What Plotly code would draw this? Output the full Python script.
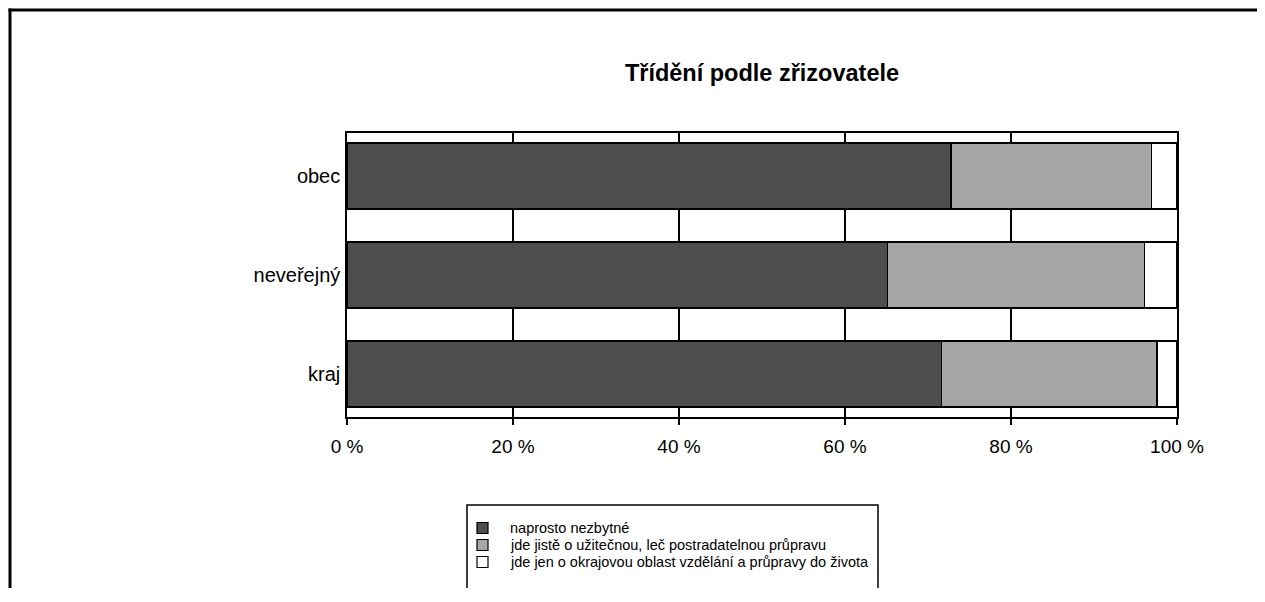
import plotly.graph_objects as go

# data, bottom to top as plotly draws it
categories = ["kraj", "neveřejný", "obec"]
series_names = [
    "naprosto nezbytné",
    "jde jistě o užitečnou, leč postradatelnou průpravu",
    "jde jen o okrajovou oblast vzdělání a průpravy do života",
]
naprosto = [71.6, 65.1, 72.8]
uzitecna = [26.0, 31.0, 24.1]
okrajova = [2.4, 3.9, 3.1]
series_values = [naprosto, uzitecna, okrajova]
series_colors = ["#4d4d4d", "#a6a6a6", "#ffffff"]

x_ticks = [0, 20, 40, 60, 80, 100]
x_tick_labels = ["0 %", "20 %", "40 %", "60 %", "80 %", "100 %"]

# the page body has an 8px margin, so the figure is shrunk and shifted by it
# (kept a bit shorter so the page does not get a scrollbar)
OFF = 8
W, H = 1265 - 2 * OFF, 602 - 2 * OFF - 6
L, R, T, B = 347 - OFF, 1177 - OFF, 133 - OFF, 417 - OFF   # plot area in figure pixels


def px(x):
    # screen x (reference pixels) -> paper x
    return (x - OFF - L) / (R - L)


def py(y):
    # screen y (reference pixels) -> paper y
    return (B - (y - OFF)) / (B - T)


fig = go.Figure()
for name, vals, col in zip(series_names, series_values, series_colors):
    fig.add_trace(go.Bar(
        name=name,
        y=categories,
        x=vals,
        orientation="h",
        marker=dict(color=col, line=dict(color="black", width=1.5)),
        showlegend=False,
    ))

shapes = [
    # outer chart border, only top and left edges are inside the picture
    dict(type="line", xref="paper", yref="paper",
         x0=px(8.5), x1=px(OFF + W), y0=py(10), y1=py(10),
         line=dict(color="black", width=3), layer="below"),
    dict(type="line", xref="paper", yref="paper",
         x0=px(10), x1=px(10), y0=py(8.5), y1=py(OFF + H),
         line=dict(color="black", width=3), layer="below"),
    # legend box
    dict(type="rect", xref="paper", yref="paper",
         x0=px(467), x1=px(878), y0=py(600), y1=py(505),
         line=dict(color="black", width=1.5), fillcolor="white"),
]
annotations = []
row_y = [528, 545, 562]
for name, col, yy in zip(series_names, series_colors, row_y):
    shapes.append(dict(type="rect", xref="paper", yref="paper",
                       x0=px(477), x1=px(488), y0=py(yy + 5.5), y1=py(yy - 5.5),
                       line=dict(color="black", width=1.2), fillcolor=col))
    annotations.append(dict(text=name, xref="paper", yref="paper",
                            x=px(508), y=py(yy), xanchor="left", yanchor="middle",
                            showarrow=False, font=dict(size=14.5, color="black")))

fig.update_layout(
    width=W,
    height=H,
    barmode="stack",
    bargap=0.333,
    plot_bgcolor="white",
    paper_bgcolor="white",
    font=dict(family="Liberation Sans, Arial", size=19, color="black"),
    margin=dict(l=L, r=W - R, t=T, b=H - B, pad=0),
    title=dict(text="<b>Třídění podle zřizovatele</b>", x=px(762), xref="paper",
               xanchor="center", y=1 - (73 - OFF) / H, yanchor="middle",
               font=dict(size=23.5, color="black")),
    shapes=shapes,
    annotations=annotations,
    showlegend=False,
)

fig.update_xaxes(
    range=[0, 100],
    tickvals=x_ticks,
    ticktext=x_tick_labels,
    ticks="outside",
    ticklen=6,
    tickwidth=1.5,
    tickcolor="black",
    ticklabelstandoff=5,
    showgrid=True,
    gridcolor="black",
    gridwidth=1.5,
    showline=True,
    linecolor="black",
    linewidth=1.5,
    mirror=True,
    zeroline=False,
)

fig.update_yaxes(
    type="category",
    range=[-0.434, 2.434],
    ticks="",
    tickfont=dict(size=20),
    showgrid=False,
    showline=True,
    linecolor="black",
    linewidth=1.5,
    mirror=True,
    ticklabelstandoff=1,
)

fig.write_html("out.html")
